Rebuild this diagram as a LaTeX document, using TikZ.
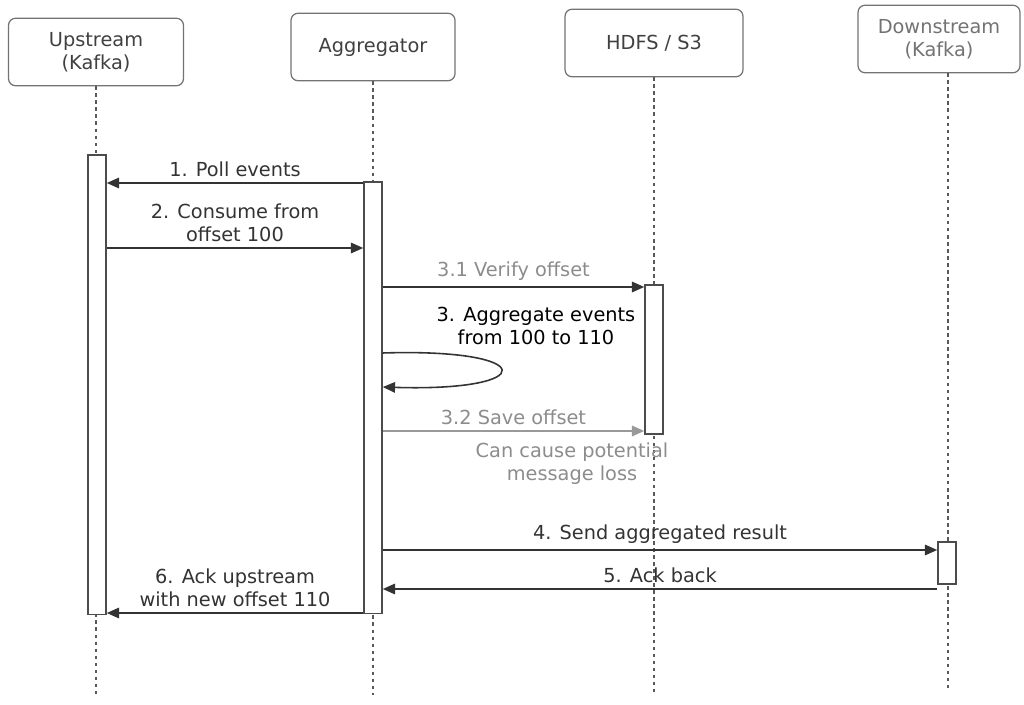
\documentclass[tikz,border=0pt]{standalone}
\usepackage{fontspec}
\setmainfont{DejaVu Sans}
\usetikzlibrary{arrows.meta}

\begin{document}
\begin{tikzpicture}[
        x=0.02cm, y=-0.02cm, % one unit is one pixel of the page
        every node/.style={font=\fontsize{11}{13}\selectfont, align=center},
        actor/.style={draw=black!55, line width=0.7pt, rounded corners=4pt, minimum height=1.35cm, text=black!75},
        bar/.style={draw=black!70, line width=0.9pt, fill=white, minimum width=0.36cm, inner sep=0pt, anchor=north},
        life/.style={black!65, line width=0.8pt, dash pattern=on 2pt off 2pt},
        msg/.style={-{Triangle[length=7pt,width=6pt]}, line width=0.9pt, black!80},
        faint/.style={text=black!45}
    ]
    \useasboundingbox (0,0) rectangle (1024,705);

    % participants
    \node[actor, minimum width=3.5cm] (up) at (96,52) {Upstream\\(Kafka)};
    \node[actor, minimum width=3.28cm] (agg) at (373,47) {Aggregator};
    \node[actor, minimum width=3.56cm] (hdfs) at (654,43) {HDFS / S3};
    \node[actor, minimum width=3.24cm, text=black!55] (down) at (939,39) {Downstream\\(Kafka)};

    \draw[life] (up.south) -- (up.south |- 0,695);
    \draw[life] (agg.south) -- (agg.south |- 0,695);
    \draw[life] (hdfs.south) -- (hdfs.south |- 0,695);
    \draw[life] ([xshift=5]down.south) -- ([xshift=5]down.south |- 0,690);

    % activations
    \node[bar, minimum height=9.2cm] (upA) at (97,154) {};
    \node[bar, minimum height=8.64cm] (aggA) at (373,181) {};
    \node[bar, minimum height=2.98cm] (hdfsA) at (654,284) {};
    \node[bar, minimum height=0.84cm] (downA) at (947,541) {};

    % messages
    \draw[msg] (aggA.west |- 0,183) -- node[above] {1. Poll events} (upA.east |- 0,183);
    \draw[msg] (upA.east |- 0,248) -- node[above] {2. Consume from\\offset 100} (aggA.west |- 0,248);
    \draw[msg] (aggA.east |- 0,287) -- node[above, faint] {3.1 Verify offset} (hdfsA.west |- 0,287);
    \node[text=black] (aggtxt) at (536,326) {3. Aggregate events\\from 100 to 110};
    \draw[msg] (aggA.east |- 0,353) .. controls (540,348) and (540,392) .. (aggA.east |- 0,387);
    \draw[msg, black!40] (aggA.east |- 0,431) -- node[above, faint] {3.2 Save offset} (hdfsA.west |- 0,431);
    \node[faint] (note) at (572,464) {Can cause potential\\message loss};
    \draw[msg] (aggA.east |- 0,550) -- node[above] {4. Send aggregated result} (downA.west |- 0,550);
    \draw[msg] (downA.west |- 0,589) -- node[above] {5. Ack back} (aggA.east |- 0,589);
    \draw[msg] (aggA.west |- 0,613) -- node[above] {6. Ack upstream\\with new offset 110} (upA.east |- 0,613);

\end{tikzpicture}
\end{document}
